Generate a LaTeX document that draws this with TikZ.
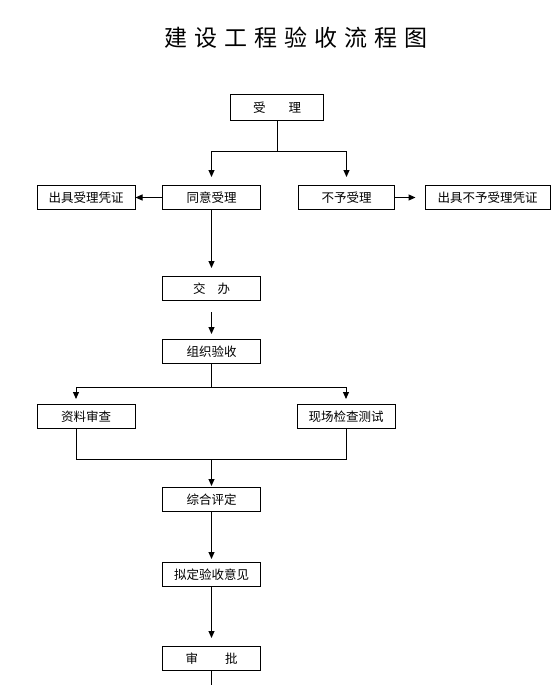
\documentclass[tikz,border=0pt]{standalone}
\usepackage{fontspec}
\setmainfont{Noto Sans CJK SC}
\usepackage{tikz}
\usetikzlibrary{
  arrows.meta,
  positioning,
  calc
}
\definecolor{FlowLine}{HTML}{000000}
\definecolor{FlowText}{HTML}{000000}

\begin{document}
\begin{tikzpicture}[
x=1pt, y=-1pt,
box/.style={
draw=FlowLine,
line width=1pt,
fill=white,
inner sep=0pt,
minimum height=24pt,
minimum width=98pt,
align=center,
font=\fontsize{12.5pt}{14pt}\selectfont
},
arrow/.style={-{Triangle[width=6pt,length=7pt]}, line width=1pt, draw=FlowLine},
link/.style={line width=1pt, draw=FlowLine},
every node/.style={text=FlowText}
]
\useasboundingbox (0,0) rectangle (555,685);

% Title
\node (title) at (296,37.5) {\fontsize{23pt}{26pt}\selectfont
建\hspace{7pt}设\hspace{7pt}工\hspace{7pt}程\hspace{7pt}验\hspace{7pt}收\hspace{7pt}流\hspace{7pt}程\hspace{7pt}图};

% First step
\node[box, minimum width=93pt, minimum height=26pt] (shouli) at (277,107.5) {受\hspace{23pt}理};

% Accept / refuse
\node[box] (tongyi) at (211.5,197.5) {同意受理};
\node[box, minimum width=96pt] (buyu) at (346.5,197.5) {不予受理};
\node[box] (pzyes) at (86,197.5) {出具受理凭证};
\node[box, minimum width=125pt] (pzno) at (487.5,197.5) {出具不予受理凭证};

% Main column
\node[box] (jiaoban) at (211.5,288.5) {交\hspace{12pt}办};
\node[box] (zuzhi) at (211.5,351.5) {组织验收};

% Two checks
\node[box] (ziliao) at (86,416.5) {资料审查};
\node[box] (xianchang) at (346,416.5) {现场检查测试};

% Lower column
\node[box] (zonghe) at (211.5,499.5) {综合评定};
\node[box] (niding) at (211.5,574.5) {拟定验收意见};
\node[box] (shenpi) at (211.5,658.5) {审\hspace{27pt}批};

% Helper points
\coordinate (split1) at ([yshift=-30pt]shouli.south);
\coordinate (split2) at ([yshift=-23pt]zuzhi.south);
\coordinate (merge) at ([yshift=-30pt]xianchang.south);
\coordinate (join) at ([yshift=27pt]zonghe.north);
\coordinate (tail) at ([yshift=-16pt]shenpi.south);

% Arrows
\draw[link] (shouli.south) -- (split1);
\draw[arrow, shorten >=8pt] (split1) -| (tongyi.north);
\draw[arrow, shorten >=8pt] (split1) -| (buyu.north);
\draw[arrow] (tongyi) -- (pzyes);
\draw[arrow, shorten >=9pt] (buyu) -- (pzno);
\draw[arrow, shorten >=8pt] (tongyi) -- (jiaoban);
\draw[arrow, shorten <=11pt, shorten >=5pt] (jiaoban) -- (zuzhi);
\draw[link] (zuzhi.south) -- (split2);
\draw[arrow, shorten >=5pt] (split2) -| ([xshift=-10pt]ziliao.north);
\draw[arrow, shorten >=5pt] (split2) -| (xianchang.north);
\draw[link] ([xshift=-10pt]ziliao.south) |- (merge) -- (xianchang.south);
\draw[arrow, shorten >=1pt] (join) -- (zonghe);
\draw[arrow, shorten >=3pt] (zonghe) -- (niding);
\draw[arrow, shorten >=8pt] (niding) -- (shenpi);
\draw[link] (shenpi.south) -- (tail);

\end{tikzpicture}
\end{document}
